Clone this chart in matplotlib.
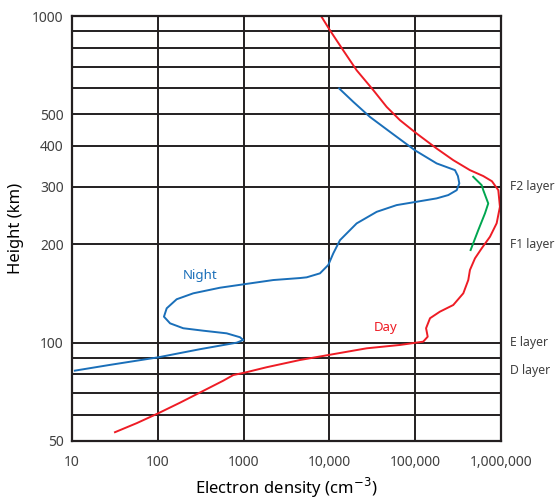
import matplotlib
matplotlib.use("Agg")
import matplotlib.pyplot as plt
from matplotlib.ticker import NullLocator

plt.rcParams["font.family"] = ["Noto Sans", "DejaVu Sans"]

# data (electron density cm^-3, height km)
day_density = [31.7, 56.8, 101.4, 181.5, 325, 580, 759, 1038, 1858, 4543,
               27200, 66500, 124000, 140000, 134000, 149000, 194000, 278000,
               364000, 416000, 435000, 498000, 596000, 745000, 891000, 973000,
               931000, 785000, 622000, 435000, 278000, 178000, 104100, 66500,
               46500, 32500, 20800, 14500, 10160, 8000]
day_height = [53.2, 56.7, 60.8, 65.5, 70.8, 76.5, 79.6, 81.0, 84.1, 88.5,
              96.1, 98.4, 100.7, 104.3, 110.7, 118.8, 124.4, 130.4,
              141.6, 155.5, 166.9, 181.2, 194.4, 211, 232, 260.6,
              293, 312, 323.6, 337.4, 362, 393, 436.7, 479.8,
              527, 593, 682, 785, 904, 1000]

night_density = [10.8, 27.7, 101.4, 310, 832, 992, 908, 635, 339, 198, 139, 118,
                 127, 166, 259, 531, 1038, 2220, 4543, 5440, 7770, 9710, 11100,
                 13300, 20800, 35600, 60800, 104100, 178000, 243000, 305000,
                 327000, 315000, 291000, 178000, 99500, 50800, 29700, 19000, 13000]
night_height = [82.1, 85.5, 90.2, 95.5, 100, 101.9, 103.9, 106.8, 108.8, 110.7,
                114.6, 120.1, 127.4, 135.8, 141.6, 147.3, 151.1, 155.5, 157.7,
                158.5, 163, 172.9, 187.6, 206, 231.8, 251.5, 263.7, 270, 276.5,
                283, 293, 307.4, 323.6, 337.4, 353.8, 388, 442, 491, 546, 600]

f1_density = [475000, 596000, 622000, 711000, 651000, 544000, 443000]
f1_height = [322, 303.5, 293, 266.8, 248.7, 221.1, 192.1]

x_ticks = [10, 100, 1000, 10000, 100000, 1000000]
x_labels = ["10", "100", "1000", "10,000", "100,000", "1,000,000"]
y_ticks = [50, 100, 200, 300, 400, 500, 1000]
y_minor = [60, 70, 80, 90, 600, 700, 800, 900]

layer_names = ["F2 layer", "F1 layer", "E layer", "D layer"]
layer_heights = [300, 200, 100, 82]

fig = plt.figure(figsize=(5.56, 5.0), dpi=100)
ax = fig.add_axes([0.1295, 0.118, 0.7715, 0.850])
ax.set_xscale("log")
ax.set_yscale("log")
ax.set_xlim(10, 1000000)
ax.set_ylim(50, 1000)

grid_col = "#231f20"
ax.set_xticks(x_ticks)
ax.set_xticklabels(x_labels)
ax.xaxis.set_minor_locator(NullLocator())
ax.set_yticks(y_ticks)
ax.set_yticklabels([str(v) for v in y_ticks])
ax.set_yticks(y_minor, minor=True)
ax.tick_params(which="both", length=0, labelsize=10, labelcolor="#404040")
ax.tick_params(axis="x", pad=10)
ax.tick_params(axis="y", pad=6)
ax.grid(True, which="both", color=grid_col, linewidth=1.4)
for s in ax.spines.values():
    s.set_color(grid_col)
    s.set_linewidth(1.6)

ax.plot(day_density, day_height, color="#ee1c25", linewidth=1.4,
        solid_joinstyle="round")
ax.plot(night_density, night_height, color="#1a6fb9", linewidth=1.4,
        solid_joinstyle="round")
ax.plot(f1_density, f1_height, color="#00a650", linewidth=1.4,
        solid_joinstyle="round")

ax.text(310, 161, "Night", color="#1a6fb9", fontsize=9.5, ha="center", va="center")
ax.text(45700, 111, "Day", color="#ee1c25", fontsize=9.5, ha="center", va="center")

for name, h in zip(layer_names, layer_heights):
    ax.text(1.021, h, name, transform=ax.get_yaxis_transform(), fontsize=8.8,
            color="#404040", ha="left", va="center")

ax.set_xlabel("Electron density (cm$^{-3}$)", fontsize=12, labelpad=4)
ax.set_ylabel("Height (km)", fontsize=12, labelpad=6)

fig.savefig("out.png", dpi=100)
